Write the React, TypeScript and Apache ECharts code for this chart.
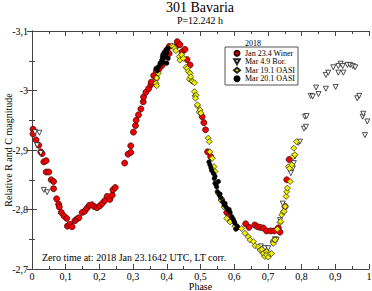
import React, { useEffect, useRef } from "react";
import * as echarts from "echarts";

const FONT = '"Liberation Serif", "Times New Roman", serif';

const seriesNames = ["Jan 23.4 Winer", "Mar 4.9 Bor.", "Mar 19.1 OASI", "Mar 20.1 OASI"];

const winer: [number, number][] = [
  [0.003, -2.935], [0.003, -2.927], [0.012, -2.917], [0.020, -2.908], [0.026, -2.897], [0.030, -2.894],
  [0.035, -2.880], [0.042, -2.882], [0.042, -2.863], [0.050, -2.863], [0.057, -2.850], [0.064, -2.847],
  [0.064, -2.835], [0.073, -2.818], [0.079, -2.809], [0.081, -2.804], [0.087, -2.795], [0.095, -2.789],
  [0.103, -2.785], [0.105, -2.772], [0.112, -2.775], [0.119, -2.771], [0.127, -2.781], [0.133, -2.784],
  [0.139, -2.786], [0.149, -2.795], [0.156, -2.797], [0.163, -2.802], [0.170, -2.807], [0.178, -2.808],
  [0.184, -2.805], [0.193, -2.803], [0.201, -2.806], [0.208, -2.810], [0.216, -2.815], [0.223, -2.822],
  [0.231, -2.817], [0.238, -2.824], [0.240, -2.833], [0.247, -2.837], [0.275, -2.878], [0.285, -2.893],
  [0.293, -2.896], [0.293, -2.907], [0.301, -2.930], [0.307, -2.941], [0.309, -2.950], [0.316, -2.959],
  [0.323, -2.969], [0.330, -2.981], [0.331, -2.989], [0.338, -2.997], [0.346, -3.003], [0.353, -3.010],
  [0.354, -3.014], [0.361, -3.025], [0.369, -3.021], [0.369, -3.033], [0.377, -3.036], [0.386, -3.042],
  [0.394, -3.057], [0.400, -3.067], [0.407, -3.074], [0.407, -3.062], [0.427, -3.074], [0.431, -3.082],
  [0.439, -3.077], [0.445, -3.065], [0.454, -3.069], [0.460, -3.052], [0.469, -3.043], [0.505, -2.956],
  [0.510, -2.946], [0.515, -2.934], [0.521, -2.897], [0.530, -2.889], [0.563, -2.816], [0.578, -2.795],
  [0.585, -2.790], [0.591, -2.782], [0.607, -2.770], [0.634, -2.776], [0.644, -2.770], [0.661, -2.774],
  [0.669, -2.771], [0.677, -2.770], [0.686, -2.769], [0.696, -2.764], [0.708, -2.764], [0.719, -2.764],
  [0.731, -2.769], [0.736, -2.762], [0.751, -2.805], [0.756, -2.850], [0.763, -2.884],
];

const bor: [number, number][] = [
  [0.009, -2.930], [0.022, -2.929], [0.015, -2.908], [0.026, -2.895], [0.035, -2.833], [0.045, -2.829],
  [0.679, -2.738], [0.685, -2.724], [0.691, -2.735], [0.701, -2.735], [0.714, -2.743], [0.721, -2.750],
  [0.726, -2.749], [0.736, -2.782], [0.744, -2.810], [0.768, -2.861], [0.774, -2.869], [0.777, -2.878],
  [0.780, -2.889], [0.790, -2.912], [0.795, -2.914], [0.807, -2.936], [0.813, -2.939], [0.810, -2.956],
  [0.815, -2.957], [0.827, -2.991], [0.833, -2.990], [0.850, -2.994], [0.843, -3.005], [0.872, -3.003],
  [0.901, -3.006], [0.872, -3.026], [0.879, -3.030], [0.894, -3.039], [0.909, -3.041], [0.916, -3.045],
  [0.922, -3.041], [0.909, -3.030], [0.924, -3.030], [0.936, -3.043], [0.944, -3.043], [0.952, -3.041],
  [0.959, -3.039], [0.965, -2.987], [0.971, -2.991], [0.981, -2.956], [0.983, -2.961], [0.995, -2.948],
  [0.988, -2.925],
];

const oasi19: [number, number][] = [
  [0.415, -3.075], [0.419, -3.074], [0.424, -3.071], [0.427, -3.067], [0.437, -3.057], [0.439, -3.051],
  [0.444, -3.060], [0.449, -3.054], [0.375, -3.029], [0.370, -3.021], [0.368, -3.012], [0.370, -3.008],
  [0.457, -3.039], [0.461, -3.037], [0.464, -3.032], [0.469, -3.029], [0.467, -3.019], [0.471, -3.023],
  [0.474, -3.016], [0.477, -3.015], [0.482, -3.013], [0.482, -2.998], [0.484, -2.991], [0.487, -2.992],
  [0.485, -2.987], [0.491, -2.974], [0.491, -2.976], [0.496, -2.964], [0.499, -2.967], [0.501, -2.962],
  [0.523, -2.920], [0.526, -2.914], [0.528, -2.897], [0.535, -2.886], [0.538, -2.864], [0.540, -2.872],
  [0.543, -2.864], [0.553, -2.827], [0.561, -2.816], [0.570, -2.804], [0.578, -2.785], [0.588, -2.779],
  [0.602, -2.772], [0.622, -2.768], [0.632, -2.760], [0.642, -2.754], [0.647, -2.749], [0.657, -2.746],
  [0.662, -2.739], [0.672, -2.737], [0.677, -2.732], [0.682, -2.733], [0.686, -2.726], [0.696, -2.729],
  [0.691, -2.721], [0.696, -2.724], [0.701, -2.720], [0.706, -2.726], [0.711, -2.726], [0.716, -2.743],
  [0.719, -2.749], [0.721, -2.749], [0.728, -2.767], [0.736, -2.778], [0.738, -2.780], [0.741, -2.791],
  [0.746, -2.796], [0.748, -2.797], [0.751, -2.805], [0.754, -2.822], [0.756, -2.830], [0.758, -2.836],
  [0.761, -2.872], [0.766, -2.847], [0.764, -2.869], [0.771, -2.875], [0.775, -2.889], [0.780, -2.892],
  [0.777, -2.903], [0.785, -2.914],
];

const oasi20: [number, number][] = [
  [0.368, -3.037], [0.372, -3.033], [0.375, -3.040], [0.380, -3.046], [0.382, -3.044], [0.385, -3.051],
  [0.387, -3.056], [0.388, -3.060], [0.390, -3.048], [0.392, -3.064], [0.395, -3.057], [0.398, -3.069],
  [0.400, -3.063], [0.403, -3.071], [0.404, -3.054], [0.400, -3.046],
  [0.525, -2.880], [0.528, -2.875], [0.531, -2.870], [0.533, -2.866], [0.538, -2.861], [0.541, -2.852],
  [0.543, -2.856], [0.543, -2.844], [0.546, -2.842], [0.548, -2.838], [0.550, -2.830], [0.553, -2.847],
  [0.556, -2.824], [0.558, -2.826], [0.560, -2.820], [0.566, -2.813], [0.570, -2.808], [0.573, -2.810],
  [0.576, -2.804], [0.582, -2.799], [0.585, -2.800], [0.588, -2.795], [0.593, -2.788], [0.597, -2.784],
  [0.600, -2.780], [0.602, -2.777], [0.609, -2.772], [0.605, -2.767],
];

const fmt = (v: number) => Number(v.toFixed(2)).toString().replace(".", ",");

export default function App() {
  const ref = useRef<HTMLDivElement>(null);
  useEffect(() => {
    if (!ref.current) return;
    const chart = echarts.init(ref.current, undefined, { renderer: "svg" });
    const axisLine = { show: true, lineStyle: { color: "#444", width: 1 } };
    const tick = { show: true, inside: true, length: 5, lineStyle: { color: "#444" } };
    const minor = { show: true, splitNumber: 2, length: 3, lineStyle: { color: "#444" } };
    const label = { fontFamily: FONT, fontSize: 10, color: "#000" };
    chart.setOption({
      animation: false,
      backgroundColor: "#fff",
      title: {
        text: "301 Bavaria",
        subtext: "P=12.242 h",
        left: 200,
        top: 0,
        padding: 0,
        textAlign: "center",
        itemGap: 1,
        textStyle: { fontFamily: FONT, fontSize: 14, lineHeight: 14, fontWeight: "normal", color: "#000" },
        subtextStyle: { fontFamily: FONT, fontSize: 10, lineHeight: 10, color: "#000" },
      },
      legend: {
        orient: "vertical",
        left: 225,
        top: 47,
        data: [
          { name: seriesNames[0] },
          { name: seriesNames[1], icon: "path://M0,0 L10,0 L5,9 Z" },
          { name: seriesNames[2] },
          { name: seriesNames[3] },
        ],
        borderColor: "#555",
        borderWidth: 1,
        backgroundColor: "#fff",
        padding: [2, 3, 2, 8],
        itemGap: 0,
        itemWidth: 6,
        itemHeight: 5,
        textStyle: { fontFamily: FONT, fontSize: 8, lineHeight: 8.5, color: "#000" },
      },
      graphic: [
        { type: "text", x: 253, y: 43, style: { text: "2018", font: `8px ${FONT}`, fill: "#000", textAlign: "center", textVerticalAlign: "middle" } },
        { type: "text", x: 42, y: 257, style: { text: "Zero time at: 2018 Jan 23.1642 UTC, LT corr.", font: `10px ${FONT}`, fill: "#000", textAlign: "left", textVerticalAlign: "middle" } },
      ],
      grid: { left: 32, right: 3, top: 31, bottom: 22, outerBoundsMode: "none", containLabel: false },
      xAxis: [
        {
          type: "value", min: 0, max: 1, interval: 0.1, position: "bottom",
          name: "Phase", nameLocation: "middle", nameGap: 12, nameMoveOverlap: false,
          nameTextStyle: { fontFamily: FONT, fontSize: 10, color: "#000" },
          axisLine, axisTick: tick, minorTick: minor, splitLine: { show: false },
          axisLabel: { ...label, margin: 2, formatter: fmt },
        },
        {
          type: "value", min: 0, max: 1, interval: 0.1, position: "top",
          axisLine, axisTick: tick, minorTick: minor, splitLine: { show: false },
          axisLabel: { show: false },
        },
      ],
      yAxis: [
        {
          type: "value", min: -3.1, max: -2.7, interval: 0.1, inverse: true, position: "left",
          name: "Relative R and C magnitude", nameLocation: "middle", nameGap: 19, nameMoveOverlap: false,
          nameTextStyle: { fontFamily: FONT, fontSize: 10, color: "#000" },
          axisLine, axisTick: tick, minorTick: minor, splitLine: { show: false },
          axisLabel: { ...label, margin: 4, formatter: fmt },
        },
        {
          type: "value", min: -3.1, max: -2.7, interval: 0.1, inverse: true, position: "right",
          axisLine, axisTick: tick, minorTick: minor, splitLine: { show: false },
          axisLabel: { show: false },
        },
      ],
      series: [
        {
          name: seriesNames[0], type: "scatter", data: winer, symbol: "circle", symbolSize: 6,
          itemStyle: { color: "#f00000", borderColor: "#300", borderWidth: 0.7, opacity: 1 },
        },
        {
          name: seriesNames[1], type: "scatter", data: bor, symbol: "triangle", symbolRotate: 180, symbolSize: 5,
          itemStyle: { color: "#fff", borderColor: "#222", borderWidth: 0.8, opacity: 1 },
        },
        {
          name: seriesNames[2], type: "scatter", data: oasi19, symbol: "diamond", symbolSize: 6,
          itemStyle: { color: "#f2f000", borderColor: "#222", borderWidth: 0.7, opacity: 1 },
        },
        {
          name: seriesNames[3], type: "scatter", data: oasi20, symbol: "circle", symbolSize: 4.5,
          itemStyle: { color: "#000", borderColor: "#000", borderWidth: 0.5, opacity: 1 },
        },
      ],
    });
    return () => chart.dispose();
  }, []);
  return <div ref={ref} style={{ position: "fixed", left: 0, top: 0, width: 372, height: 291 }} />;
}
